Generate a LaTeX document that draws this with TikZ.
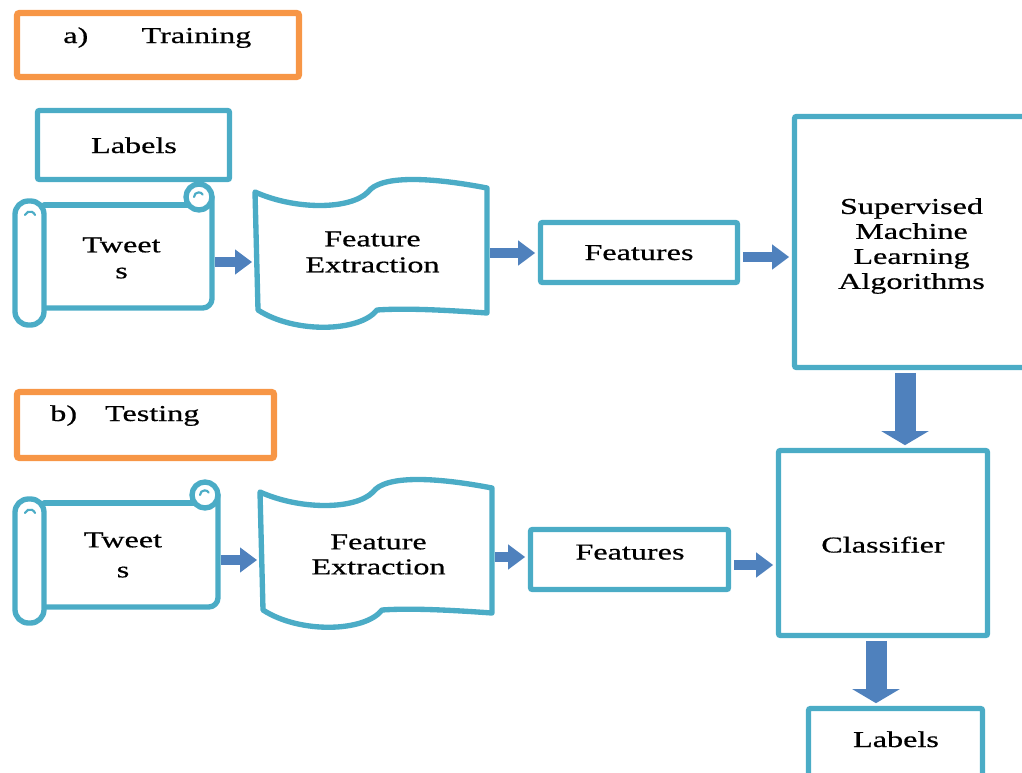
\documentclass[tikz,border=0pt]{standalone}
\usepackage{fontspec}
\setmainfont[FakeStretch=1.42,FakeBold=0.6]{Liberation Serif}
\usetikzlibrary{arrows.meta}
\definecolor{tealc}{HTML}{4BACC6}
\definecolor{orngc}{HTML}{F79646}
\definecolor{bluec}{HTML}{4F81BD}
\newcommand\myscroll[5]{%
\begin{scope}[shift={(#1,#2)}]
\draw[shp] (29,0) -- ({#3-13},0);
\draw[shp, rounded corners=7pt] (#3,-8) -- (#3,#4) -- (29,#4);
\draw[shp, fill=white] ({#3-13},-8) circle[radius=9.75pt];
\draw[tealc, line width=1.6pt, line cap=round] ({#3-18},-8) arc[start angle=180, end angle=30, radius=3.5pt];
\draw[shp, fill=white, rounded corners=10pt] (0,-4) rectangle (29,{#4+#5});
\draw[tealc, line width=1.6pt, line cap=round] (10,10) arc[start angle=160, end angle=20, radius=4pt];
\end{scope}}
\newcommand\mytape[2]{%
\begin{scope}[shift={(#1,#2)}]
\draw[shp, fill=white] (0,0) .. controls (40,18) and (95,18) .. (113,0)
  .. controls (125,-17) and (175,-15) .. (232,-4)
  -- (232,121)
  .. controls (190,118) and (150,116) .. (122,118)
  .. controls (105,140) and (40,142) .. (3,118) -- cycle;
\end{scope}}
\begin{document}
\begin{tikzpicture}[x=0.75pt,y=-0.75pt,
  shp/.style={draw=tealc, line width=4pt, line join=round, line cap=round},
  tbox/.style={draw=tealc, line width=4pt, rounded corners=1.5pt, inner sep=0pt},
  obox/.style={draw=orngc, line width=4.8pt, rounded corners=2pt, inner sep=0pt},
  ghost/.style={inner sep=0pt, draw=none},
  txt/.style={inner sep=0pt, align=center, font=\fontsize{17}{19.5}\selectfont},
  harrow/.style={draw=bluec, line width=8pt, shorten <=2pt, shorten >=2pt,
    -{Triangle[length=12.75pt,width=18pt]}},
  varrow/.style={draw=bluec, line width=15.75pt, shorten <=2pt, shorten >=2pt,
    -{Triangle[length=10.5pt,width=35pt]}}]
\useasboundingbox (0,0) rectangle (1022,772);
\clip (0,0) rectangle (1022,772);
% training section
\node[obox, minimum width=211.5pt, minimum height=48pt] (train) at (158,45) {};
\node[txt, anchor=base west] (traint) at (63,43) {a)\hspace{40pt}Training};
\node[tbox, minimum width=144pt, minimum height=51.75pt] (lab1) at (133.5,145) {};
\node[txt, anchor=base] (lab1t) at (134,153) {Labels};
\myscroll{15}{205}{197}{103}{17}
\node[ghost, minimum width=147.75pt, minimum height=77.25pt] (tw1) at (113.5,256.5) {};
\node[txt] (tw1t) at (121.5,258) {Tweet\\s};
\mytape{255}{192}
\node[ghost, minimum width=174pt, minimum height=75pt] (fe1) at (371,252) {};
\node[txt] (fe1t) at (372.5,252) {Feature\\Extraction};
\node[tbox, minimum width=147.75pt, minimum height=45pt] (ft1) at (639,252.5) {};
\node[txt, anchor=base] (ft1t) at (639,260) {Features};
\node[tbox, minimum width=176.6pt, minimum height=188.25pt] (sml) at (912.25,242) {};
\node[txt, font=\fontsize{17}{18.75}\selectfont] (smlt) at (911.5,246) {Supervised\\Machine\\Learning\\Algorithms};
% testing section
\node[obox, minimum width=192.75pt, minimum height=49.5pt] (test) at (145.5,425) {};
\node[txt, anchor=base west] (testt) at (50,421) {b)\hspace{21pt}Testing};
\myscroll{15}{503}{203}{104}{16}
\node[ghost, minimum width=152.25pt, minimum height=78pt] (tw2) at (116.5,555) {};
\node[txt, font=\fontsize{17}{22.5}\selectfont] (tw2t) at (123,555) {Tweet\\s};
\mytape{260}{492}
\node[ghost, minimum width=174pt, minimum height=75pt] (fe2) at (376,552) {};
\node[txt, font=\fontsize{17}{18.75}\selectfont] (fe2t) at (378.5,554.5) {Feature\\Extraction};
\node[tbox, minimum width=148.5pt, minimum height=45pt] (ft2) at (629.5,559.5) {};
\node[txt, anchor=base] (ft2t) at (630,559.5) {Features};
\node[tbox, minimum width=156.75pt, minimum height=138.75pt] (cls) at (883,543) {};
\node[txt, anchor=base] (clst) at (883,552.5) {Classifier};
\node[tbox, minimum width=130.5pt, minimum height=61.1pt] (lab2) at (895.5,749.25) {};
\node[txt, anchor=base] (lab2t) at (896,747) {Labels};
% arrows
\draw[harrow] (tw1.east |- 0,262) -- (fe1.west |- 0,262);
\draw[harrow] (fe1.east |- 0,253) -- (ft1.west |- 0,253);
\draw[harrow] (ft1.east |- 0,257) -- (sml.west |- 0,257);
\draw[varrow] (sml.south -| 905,0) -- (cls.north -| 905,0);
\draw[harrow] (tw2.east |- 0,560) -- (fe2.west |- 0,560);
\draw[harrow] (fe2.east |- 0,557) -- (ft2.west |- 0,557);
\draw[harrow] (ft2.east |- 0,565) -- (cls.west |- 0,565);
\draw[varrow] (cls.south -| 876,0) -- (lab2.north -| 876,0);
\end{tikzpicture}
\end{document}
